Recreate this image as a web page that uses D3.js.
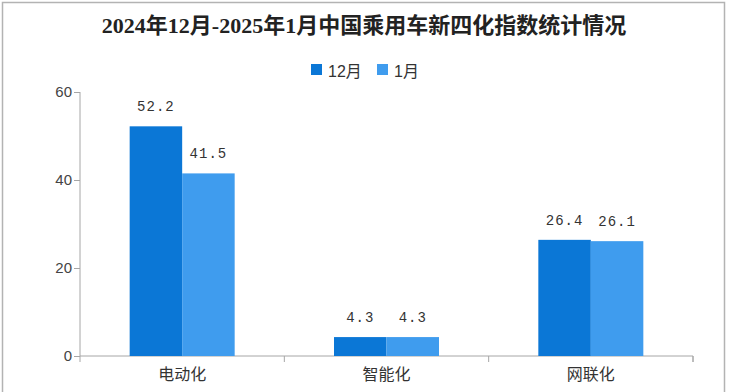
<!DOCTYPE html>
<html><head><meta charset="utf-8">
<script src="https://cdn.jsdelivr.net/npm/d3@7/dist/d3.min.js"></script>
<style>body{margin:0;background:#fff}svg{display:block}</style>
</head><body>
<svg id="c" width="731" height="392"></svg>
<script>
const categories = ["电动化", "智能化", "网联化"];
const seriesNames = ["12月", "1月"];
const dec = [52.2, 4.3, 26.4];
const jan = [41.5, 4.3, 26.1];
const yTicks = [0, 20, 40, 60];
const colors = ["#0b77d6", "#3f9cee"];

const svg = d3.select("#c");
// frame
svg.append("path").attr("d", "M2.5,392V2.5H724.5V392").attr("fill", "none").attr("stroke", "#b3b3b3").attr("stroke-width", 1.5);

const x0 = d3.scaleBand().domain(categories).range([80, 693]).paddingInner(0).paddingOuter(0);
const x1 = d3.scaleBand().domain(seriesNames).range([0, 105]);
const y = d3.scaleLinear().domain([0, 60]).range([356, 92]);

svg.append("text").attr("x", 364).attr("y", 33).attr("text-anchor", "middle")
  .style("font-family", "'Liberation Serif','Noto Sans CJK SC',serif").style("font-weight", "bold")
  .style("font-size", "22px").attr("fill", "#222")
  .text("2024年12月-2025年1月中国乘用车新四化指数统计情况");

// legend
const lg = svg.append("g");
const lx = [311, 377];
seriesNames.forEach((s, i) => {
  lg.append("rect").attr("x", lx[i]).attr("y", 64).attr("width", 11).attr("height", 11).attr("fill", colors[i]);
  lg.append("text").attr("x", lx[i] + 17).attr("y", 77).style("font-family", "'Liberation Sans','Noto Sans CJK SC',sans-serif")
    .style("font-size", "16px").attr("fill", "#333").text(s);
});

// axes
const axisColor = "#a6a6a6";
const ya = svg.append("g").attr("transform", "translate(80,0)").call(d3.axisLeft(y).tickValues(yTicks).tickSize(6).tickPadding(2));
ya.select(".domain").attr("d", "M0,92V362").attr("stroke", axisColor);
ya.selectAll(".tick line").attr("stroke", axisColor);
ya.selectAll(".tick text").style("font-family", "'Liberation Sans',sans-serif").style("font-size", "15px").attr("fill", "#444");

const xa = svg.append("g").attr("transform", "translate(0,356)")
  .call(d3.axisBottom(x0).tickSize(0).tickPadding(13));
xa.select(".domain").attr("stroke", axisColor).attr("d", "M80,0H693V6");
xa.selectAll(".tick text").style("font-family", "'Noto Sans CJK SC',sans-serif").style("font-size", "16px").attr("fill", "#333");
const bounds = categories.map(c => x0(c) + x0.bandwidth());
svg.selectAll(".xt").data(bounds).enter().append("line").attr("class", "xt")
  .attr("x1", d => d).attr("x2", d => d).attr("y1", 356).attr("y2", 362).attr("stroke", axisColor);

// bars
const rows = categories.map((c, i) => ({c, vals: [dec[i], jan[i]]}));
const g = svg.append("g");
rows.forEach(r => {
  const off = x0(r.c) + (x0.bandwidth() - 105) / 2;
  r.vals.forEach((v, j) => {
    const bx = off + x1(seriesNames[j]);
    g.append("rect").attr("x", bx).attr("y", y(v)).attr("width", x1.bandwidth()).attr("height", y(0) - y(v)).attr("fill", colors[j]);
    g.append("text").attr("x", bx + x1.bandwidth() / 2).attr("y", y(v) - 15).attr("text-anchor", "middle")
      .style("font-family", "'Liberation Mono','DejaVu Sans Mono',monospace").style("font-size", "14px")
      .style("letter-spacing", "1px").attr("fill", "#333").text(v.toFixed(1));
  });
});
</script>
</body></html>
